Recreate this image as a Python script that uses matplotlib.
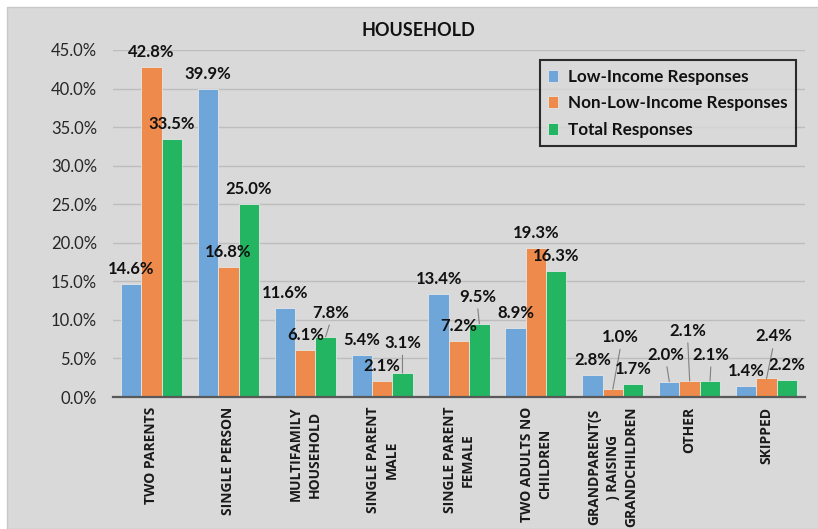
import matplotlib
matplotlib.use("Agg")
import matplotlib.pyplot as plt
from matplotlib.patches import Rectangle
import numpy as np

categories = ["TWO PARENTS", "SINGLE PERSON", "MULTIFAMILY\nHOUSEHOLD", "SINGLE PARENT\nMALE",
              "SINGLE PARENT\nFEMALE", "TWO ADULTS NO\nCHILDREN", "GRANDPARENT(S\n) RAISING\nGRANDCHILDREN",
              "OTHER", "SKIPPED"]
low_income = [14.6, 39.9, 11.6, 5.4, 13.4, 8.9, 2.8, 2.0, 1.4]
non_low_income = [42.8, 16.8, 6.1, 2.1, 7.2, 19.3, 1.0, 2.1, 2.4]
total = [33.5, 25.0, 7.8, 3.1, 9.5, 16.3, 1.7, 2.1, 2.2]
series_names = ["Low-Income Responses", "Non-Low-Income Responses", "Total Responses"]
yticks = [0, 5, 10, 15, 20, 25, 30, 35, 40, 45]

colors = ["#6fa6d9", "#ee8b4c", "#23b561"]
bg = "#d9d9d9"

# label offsets in pixels (dx, dy) for moved labels with leader lines
moved = {(2, 2): (5, 24), (2, 3): (0, 30), (2, 4): (-2, 27),
         (1, 6): (8, 52), (0, 7): (-3, 27), (1, 7): (-2, 50), (2, 7): (1, 26),
         (1, 8): (7, 42)}

fig = plt.figure(figsize=(8.18, 5.29), dpi=100, facecolor="white")
fig.patches.append(Rectangle((7 / 818, 0), 1, 1 - 7 / 529, transform=fig.transFigure,
                             facecolor=bg, edgecolor="#c8c8c8", lw=1, zorder=-10))
ax = fig.add_axes([113 / 818, 1 - 397 / 529, (805 - 113) / 818, (397 - 50) / 529])
ax.set_facecolor(bg)

x = np.arange(len(categories))
w = 0.265
data = [low_income, non_low_income, total]
for si, (vals, c, name) in enumerate(zip(data, colors, series_names)):
    xs = x + (si - 1) * w
    ax.bar(xs, vals, width=w, color=c, edgecolor="#e6e6e6", linewidth=0.6, label=name, zorder=3)
    for ci, (xx, v) in enumerate(zip(xs, vals)):
        dx, dy = moved.get((si, ci), (0, 15))
        lead = (si, ci) in moved
        ax.annotate(f"{v:.1f}%", xy=(xx, v), xytext=(dx, dy), textcoords="offset pixels",
                    ha="center", va="center", fontsize=12, fontweight="bold",
                    family="Lato", color="#111111", zorder=5,
                    arrowprops=dict(arrowstyle="-", color="#808080", lw=0.8,
                                    shrinkA=1, shrinkB=0, relpos=(0.5, 0)) if lead else None)

ax.set_xlim(-0.5, len(categories) - 0.5)
ax.set_ylim(0, 45)
ax.set_yticks(yticks)
ax.set_yticklabels([f"{t:.1f}%" for t in yticks], fontsize=12, family="Lato", color="#262626")
ax.set_xticks(x)
ax.set_xticklabels(categories, rotation=90, fontsize=10, fontweight="bold", family="Open Sans",
                   va="top", ha="center", linespacing=1.4, color="#1a1a1a")
ax.tick_params(axis="both", length=0)
ax.tick_params(axis="y", pad=11.5)
ax.tick_params(axis="x", pad=7)
ax.grid(axis="y", color="#bdbdbd", lw=1, zorder=0)
for s in ["top", "right", "left"]:
    ax.spines[s].set_visible(False)
ax.spines["bottom"].set_color("#595959")
ax.spines["bottom"].set_linewidth(1.6)
ax.spines["bottom"].set_zorder(4)

fig.text(418 / 818, 1 - 30 / 529, "HOUSEHOLD", ha="center", va="center", fontsize=13,
         fontweight="bold", family="Lato", color="#111111")

leg = ax.legend(loc="upper right", bbox_to_anchor=(796 / 818, 1 - 60 / 529),
                bbox_transform=fig.transFigure, frameon=True, fancybox=False,
                prop=dict(family="Lato", weight="bold", size=12.3),
                handlelength=0.6, handleheight=0.7, handletextpad=0.55,
                labelspacing=0.62, borderpad=0.5, borderaxespad=0)
leg.get_frame().set_edgecolor("black")
leg.get_frame().set_linewidth(1.5)
leg.get_frame().set_facecolor(bg)
for t in leg.get_texts():
    t.set_color("#111111")

fig.savefig("out.png", dpi=100, facecolor="white")
